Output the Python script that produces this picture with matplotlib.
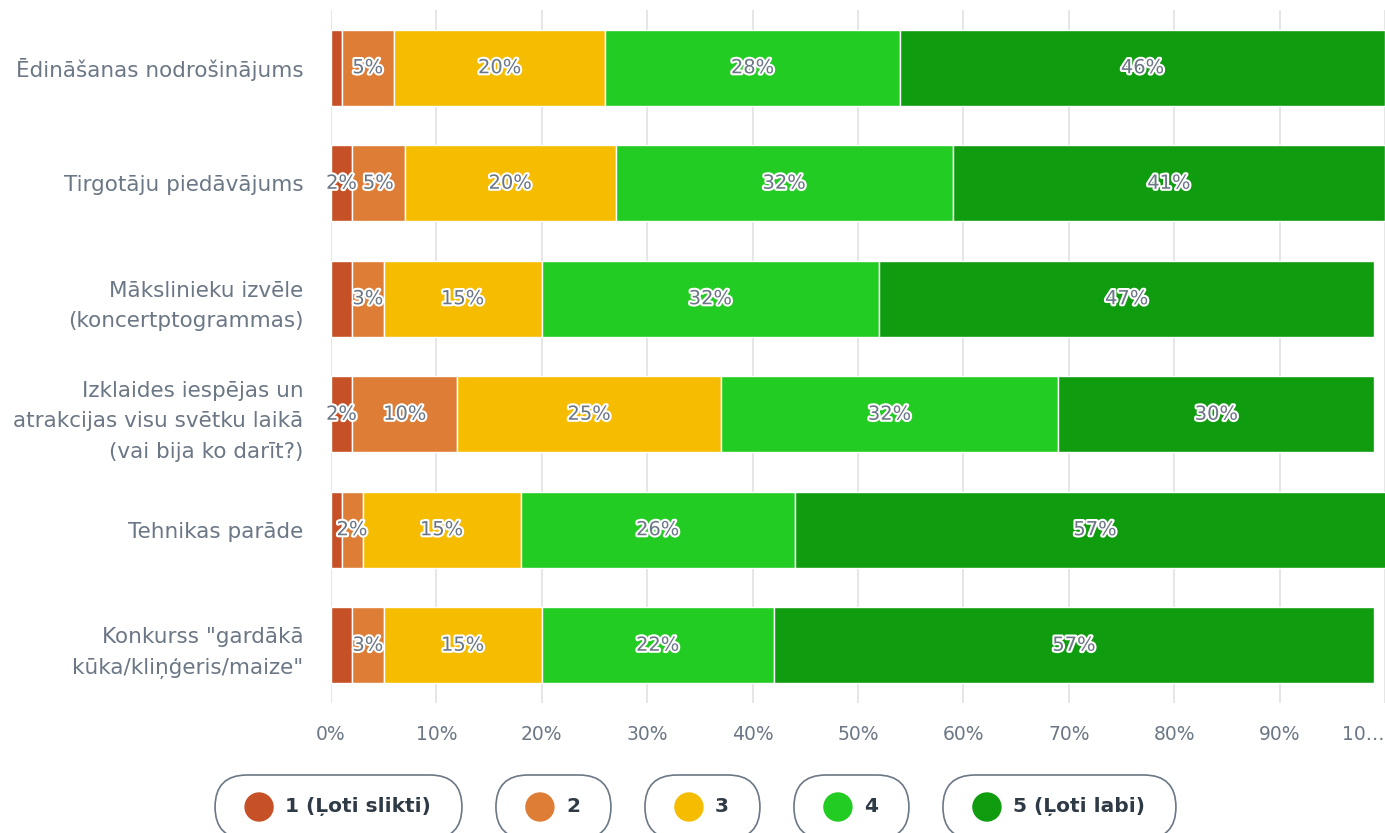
import numpy as np
import matplotlib
matplotlib.use('Agg')
from matplotlib import pyplot as plt
from matplotlib import patheffects as pe
from matplotlib.patches import FancyBboxPatch, Circle

''' Stacked horizontal bar chart of festival ratings (1..5), shares in percent. '''

categories = [
    'Ēdināšanas nodrošinājums',
    'Tirgotāju piedāvājums',
    'Mākslinieku izvēle\n(koncertptogrammas)',
    'Izklaides iespējas un\natrakcijas visu svētku laikā\n(vai bija ko darīt?)',
    'Tehnikas parāde',
    'Konkurss "gardākā\nkūka/kliņģeris/maize"',
]
series_names = ['1 (Ļoti slikti)', '2', '3', '4', '5 (Ļoti labi)']
series_colors = ['#c65127', '#de7d36', '#f6bc00', '#22cc22', '#0f9c0f']

r1 = [1, 2, 2, 2, 1, 2]
r2 = [5, 5, 3, 10, 2, 3]
r3 = [20, 20, 15, 25, 15, 15]
r4 = [28, 32, 32, 32, 26, 22]
r5 = [46, 41, 47, 30, 57, 57]

# labels drawn inside the segments ('' = not shown)
lab1 = ['', '2%', '', '2%', '', '']
lab2 = ['5%', '5%', '3%', '10%', '2%', '3%']
lab3 = ['20%', '20%', '15%', '25%', '15%', '15%']
lab4 = ['28%', '32%', '32%', '32%', '26%', '22%']
lab5 = ['46%', '41%', '47%', '30%', '57%', '57%']

xticks = [0, 10, 20, 30, 40, 50, 60, 70, 80, 90, 100]
xticklabels = ['0%', '10%', '20%', '30%', '40%', '50%', '60%', '70%', '80%', '90%', '10…']

gray = '#6b7785'
dark = '#2e3a46'

W, H = 1385, 833
fig = plt.figure(figsize=(W / 100, H / 100), dpi=100)
ax = fig.add_axes([331 / W, (H - 703) / H, (W - 331) / W, 693 / H])

values = [r1, r2, r3, r4, r5]
labels = [lab1, lab2, lab3, lab4, lab5]
y = np.arange(len(categories))
left = np.zeros(len(categories))
for vals, labs, col in zip(values, labels, series_colors):
    vals = np.array(vals, dtype=float)
    ax.barh(y, vals, left=left, height=0.66, color=col, edgecolor='white',
            linewidth=1, zorder=2)
    for yi, l, v, s in zip(y, left, vals, labs):
        if s:
            ax.text(l + v / 2, yi, s, ha='center', va='center', fontsize=14,
                    color=gray, zorder=3,
                    path_effects=[pe.withStroke(linewidth=3, foreground='white')])
    left += vals

ax.set_xlim(0, 100)
ax.set_ylim(len(categories) - 0.5, -0.5)
ax.set_yticks(y)
ax.set_yticklabels(categories, fontsize=15.5, color=gray, linespacing=1.65)
ax.set_xticks(xticks)
ax.set_xticklabels(xticklabels, fontsize=13.5, color=gray)
ax.get_xticklabels()[-1].set_horizontalalignment('right')
ax.tick_params(axis='x', length=0, pad=16)
ax.tick_params(axis='y', length=0, pad=20)
ax.grid(True, axis='x', color='#e2e2e2', linewidth=1.2, zorder=0)
ax.set_axisbelow(True)
for s in ax.spines.values():
    s.set_visible(False)

# legend as pills along the bottom, in pixel coordinates
lax = fig.add_axes([0, 0, 1, 1], zorder=5)
lax.set_xlim(0, W)
lax.set_ylim(H, 0)
lax.axis('off')
lax.patch.set_alpha(0)

renderer = fig.canvas.get_renderer()
texts = []
widths = []
for name in series_names:
    t = lax.text(0, 807, name, fontsize=14.5, fontweight='bold', color=dark,
                 va='center', ha='left')
    texts.append(t)
    widths.append(t.get_window_extent(renderer).width)

pad_l, circ, gap, pad_r, spacing = 30, 28, 12, 31, 34
pill_w = [pad_l + circ + gap + w + pad_r for w in widths]
total = sum(pill_w) + spacing * (len(pill_w) - 1)
x0 = (W - total) / 2 + 3
for t, pw, col in zip(texts, pill_w, series_colors):
    lax.add_patch(FancyBboxPatch((x0, 775), pw, 64,
                                 boxstyle='round,pad=0,rounding_size=32',
                                 facecolor='white', edgecolor=gray, linewidth=1.2))
    lax.add_patch(Circle((x0 + pad_l + circ / 2, 807), circ / 2, color=col))
    t.set_x(x0 + pad_l + circ + gap)
    t.set_zorder(3)
    x0 += pw + spacing

fig.savefig('out.png', dpi=100)
